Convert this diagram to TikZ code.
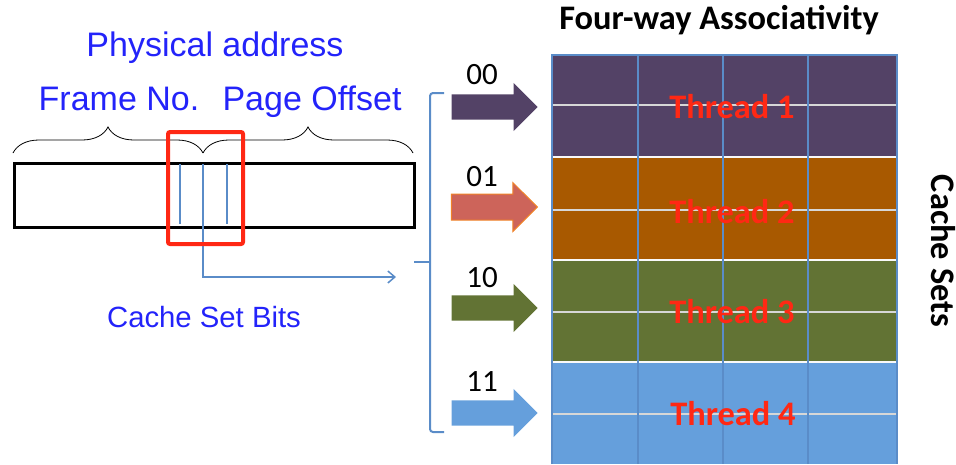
\documentclass[tikz,border=0pt]{standalone}
\usepackage{fontspec}
\setmainfont{Carlito}
\newfontfamily\helv{Liberation Sans}
\usetikzlibrary{shapes.arrows,decorations.pathreplacing,arrows.meta}
\definecolor{cpurple}{RGB}{83,66,102}
\definecolor{corange}{RGB}{168,89,0}
\definecolor{cgreen}{RGB}{98,115,52}
\definecolor{cblue}{RGB}{101,159,220}
\definecolor{asalmon}{RGB}{205,100,90}
\definecolor{aborder}{RGB}{240,130,40}
\definecolor{cred}{RGB}{255,40,20}
\definecolor{tblue}{RGB}{35,35,250}
\definecolor{lblue}{RGB}{90,140,200}
\definecolor{lgray}{RGB}{215,215,215}
\begin{document}
\begin{tikzpicture}[x=1pt,y=-1pt,
  bigbold/.style={font=\fontsize{34.4}{38}\selectfont\bfseries, inner sep=0pt},
  threadlbl/.style={font=\fontsize{34.4}{38}\selectfont\bfseries, text=cred, inner sep=0pt},
  bluetxt/.style={font=\helv\fontsize{34}{38}\selectfont, text=tblue, inner sep=0pt},
  digit/.style={font=\fontsize{31}{34}\selectfont, inner sep=0pt},
  blockarrow/.style={single arrow, draw=none, minimum height=86pt, text height=0pt, text depth=0pt,
     inner xsep=0pt, inner ysep=12.5pt, single arrow head extend=11.5pt, single arrow tip angle=90},
  band/.style={draw=none, minimum width=345pt, minimum height=102pt, inner sep=0pt, anchor=north west},
  bitline/.style={draw=lblue, line width=1.5pt},
  blkbrace/.style={decorate, decoration={brace, amplitude=26pt}, draw=black, line width=0.8pt},
]
\useasboundingbox (0,0) rectangle (956,464);

% ---------- left: physical address ----------
\node[bluetxt] (phys) at (215,48) {Physical address};
\node[bluetxt, anchor=base] (frame) at (119,110) {Frame No.};
\node[bluetxt, anchor=base] (offset) at (312,110) {Page Offset};

\draw[blkbrace] (13,153) -- (203,153);
\draw[blkbrace] (203,153) -- (413,153);

\node[draw=black, line width=2.5pt, minimum width=400pt, minimum height=64pt, inner sep=0pt, anchor=north west] (addr) at (13,162) {};

\coordinate (b1t) at (180,164); \coordinate (b1b) at (180,224);
\coordinate (b2t) at (203,164);
\coordinate (b3t) at (227,164); \coordinate (b3b) at (227,224);
\coordinate (setin) at (396,277);
\draw[bitline] (b1t) -- (b1b);
\draw[bitline] (b3t) -- (b3b);
\draw[bitline, -{Straight Barb[length=7pt,width=12pt]}] (b2t) |- (setin);

\node[draw=cred, line width=4pt, rounded corners=2pt, minimum width=75pt, minimum height=112pt, inner sep=0pt, anchor=north west] (redbox) at (166,130) {};

\node[bluetxt, font=\helv\fontsize{29.3}{32}\selectfont] (csb) at (204,317) {Cache Set Bits};

% ---------- bracket ----------
\coordinate (brtop) at (444,93);
\coordinate (brbot) at (444,432);
\coordinate (brtip) at (414,262);
\draw[lblue, line width=2pt, rounded corners=3pt] (brtop) -- (430,93) -- (430,432) -- (brbot);
\draw[lblue, line width=2pt] (brtip) -- (430,262);

% ---------- block arrows ----------
\node[blockarrow, fill=cpurple, anchor=tip] (a00) at (538,107) {};
\node[blockarrow, fill=asalmon, draw=aborder, line width=1pt, anchor=tip] (a01) at (538,207) {};
\node[blockarrow, fill=cgreen, anchor=tip] (a10) at (538,308) {};
\node[blockarrow, fill=cblue, anchor=tip] (a11) at (538,413) {};
\node[digit] (l00) at (482,75) {00};
\node[digit] (l01) at (482,177) {01};
\node[digit] (l10) at (482,278) {10};
\node[digit] (l11) at (482,382) {11};

% ---------- cache grid ----------
\node[band, fill=cpurple] (s1) at (552,55) {};
\node[band, fill=corange] (s2) at (552,157) {};
\node[band, fill=cgreen] (s3) at (552,260) {};
\node[band, fill=cblue] (s4) at (552,362) {};
\foreach \y in {105,210,312,414} \draw[lgray, line width=1.5pt] (553,\y) -- (896,\y);
\foreach \y in {157,260,362} \draw[white!85!lgray, line width=2pt] (553,\y) -- (896,\y);
\foreach \x in {638,723,808} \draw[lblue, line width=2pt] (\x,55) -- (\x,464);
\draw[lblue, line width=1.5pt] (552,464) -- (552,55) -- (897,55) -- (897,464);

\node[threadlbl] (t1) at (732,107) {Thread 1};
\node[threadlbl] (t2) at (732,212) {Thread 2};
\node[threadlbl] (t3) at (732,312) {Thread 3};
\node[threadlbl] (t4) at (733,414) {Thread 4};

\node[bigbold] (title) at (719,20) {Four-way Associativity};
\node[bigbold, rotate=-90] (sets) at (943,251) {Cache Sets};
\end{tikzpicture}
\end{document}
